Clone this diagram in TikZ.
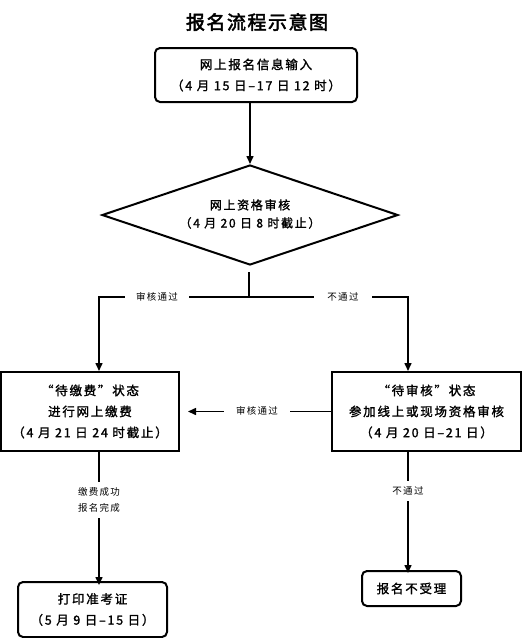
\documentclass[tikz,border=0pt]{standalone}
\usepackage{fontspec}
\usetikzlibrary{arrows.meta,shapes.geometric}
\newfontfamily\cjk[LetterSpace=14,AutoFakeBold=1.5]{Noto Sans CJK SC}
\newfontfamily\cjktitle[LetterSpace=8,AutoFakeBold=2.5]{Noto Sans CJK SC}
\begin{document}
\begin{tikzpicture}[x=1pt,y=-1pt,
  boxtxt/.style={font=\cjk\bfseries\fontsize{12.5}{21}\selectfont, align=center, inner sep=0pt},
  rbox/.style={boxtxt, draw, line width=2pt, rounded corners=5pt},
  sbox/.style={boxtxt, draw, line width=2pt},
  lab/.style={font=\cjk\fontsize{9.5}{16}\selectfont, align=center, fill=white, inner xsep=11pt, inner ysep=1pt},
  conn/.style={line width=1.5pt},
  arr/.style={conn, -{Triangle[length=8pt,width=7pt]}}
]
\useasboundingbox (0,0) rectangle (528,638);
\node[font=\cjktitle\bfseries\fontsize{19}{22}\selectfont] (title) at (257,22) {报名流程示意图};

\node[rbox, minimum width=202pt, minimum height=54pt] (b1) at (256,75)
  {网上报名信息输入\\（4 月 15 日–17 日 12 时）};

\node[diamond, draw, line width=2pt, minimum width=296pt, minimum height=100pt, aspect=3, inner sep=0pt] (dia) at (250,215) {};
\node[boxtxt, font=\cjk\bfseries\fontsize{12}{18}\selectfont] (diat) at (250,214) {网上资格审核\\（4 月 20 日 8 时截止）};

\node[sbox, minimum width=178pt, minimum height=79pt] (b2) at (90,411.5)
  {“待缴费”状态\\进行网上缴费\\（4 月 21 日 24 时截止）};
\node[sbox, minimum width=189pt, minimum height=79pt] (b3) at (426.5,411.5)
  {“待审核”状态\\参加线上或现场资格审核\\（4 月 20 日–21 日）};

\node[rbox, minimum width=149pt, minimum height=55pt] (b4) at (92.5,609.5)
  {打印准考证\\（5 月 9 日–15 日）};
\node[rbox, minimum width=99pt, minimum height=35pt] (b5) at (411.5,588.5) {报名不受理};

% junction coordinates
\coordinate (jtop) at (249,272);
\coordinate (jmid) at (249,297);
\coordinate (jl) at (99,297);
\coordinate (jr) at (408,297);

\draw[arr] (b1.south -| dia.north) -- (dia.north);
\draw[conn] (jtop) -- (jmid);
\draw[arr] (jmid) -- (jl) -- (jl |- b2.north);
\node[lab] (l1) at (157,297) {审核通过};
\draw[arr] (jmid) -- (jr) -- (jr |- b3.north);
\node[lab, inner xsep=13pt] (l2) at (343,297) {不通过};

\draw[arr] (b3.west) -- ([xshift=8pt]b2.east);
\node[lab, inner xsep=12pt] (l3) at (257,411) {审核通过};

\draw[arr] (jl |- b2.south) -- ([yshift=-4pt]jl |- b4.north);
\node[lab, inner ysep=6pt] (l4) at (99,500) {缴费成功\\报名完成};

\draw[arr] (jr |- b3.south) -- ([yshift=-3pt]jr |- b5.north);
\node[lab, inner ysep=6pt] (l5) at (408,491) {不通过};
\end{tikzpicture}
\end{document}
